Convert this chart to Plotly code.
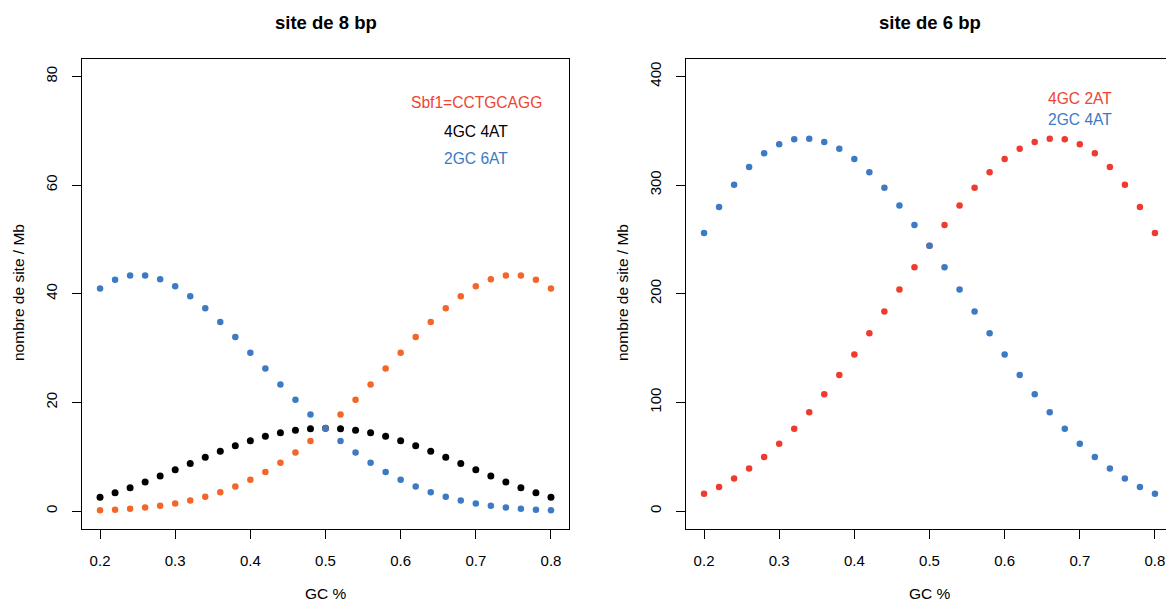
import plotly.graph_objects as go

# ---------------- data ----------------
gc = [0.20, 0.22, 0.24, 0.26, 0.28, 0.30, 0.32, 0.34, 0.36, 0.38, 0.40,
      0.42, 0.44, 0.46, 0.48, 0.50, 0.52, 0.54, 0.56, 0.58, 0.60,
      0.62, 0.64, 0.66, 0.68, 0.70, 0.72, 0.74, 0.76, 0.78, 0.80]

sbf1_8bp = [0.16, 0.27, 0.43, 0.66, 0.98, 1.40, 1.94, 2.63, 3.48, 4.52, 5.76,
            7.21, 8.89, 10.79, 12.92, 15.26, 17.79, 20.50, 23.32, 26.23, 29.16,
            32.04, 34.79, 37.32, 39.55, 41.36, 42.67, 43.36, 43.36, 42.58, 40.96]
gc4at4_8bp = [2.56, 3.39, 4.32, 5.35, 6.45, 7.60, 8.76, 9.91, 11.01, 12.04, 12.96,
              13.76, 14.40, 14.87, 15.16, 15.26, 15.16, 14.87, 14.40, 13.76, 12.96,
              12.04, 11.01, 9.91, 8.76, 7.60, 6.45, 5.35, 4.32, 3.39, 2.56]
gc2at6_8bp = [40.96, 42.58, 43.36, 43.36, 42.67, 41.36, 39.55, 37.32, 34.79, 32.04, 29.16,
              26.23, 23.32, 20.50, 17.79, 15.26, 12.92, 10.79, 8.89, 7.21, 5.76,
              4.52, 3.48, 2.63, 1.94, 1.40, 0.98, 0.66, 0.43, 0.27, 0.16]

gc4at2_6bp = [16.0, 22.3, 29.9, 39.1, 49.8, 62.0, 75.8, 91.0, 107.5, 125.2, 144.0,
              163.6, 183.7, 204.0, 224.3, 244.1, 263.2, 281.1, 297.5, 311.9, 324.0,
              333.4, 339.7, 342.7, 342.1, 337.6, 329.2, 316.7, 300.3, 279.9, 256.0]
gc2at4_6bp = [256.0, 279.9, 300.3, 316.7, 329.2, 337.6, 342.1, 342.7, 339.7, 333.4, 324.0,
              311.9, 297.5, 281.1, 263.2, 244.1, 224.3, 204.0, 183.7, 163.6, 144.0,
              125.2, 107.5, 91.0, 75.8, 62.0, 49.8, 39.1, 29.9, 22.3, 16.0]

x_ticks = [0.2, 0.3, 0.4, 0.5, 0.6, 0.7, 0.8]
x_ticklabels = ["0.2", "0.3", "0.4", "0.5", "0.6", "0.7", "0.8"]
y1_ticks = [0, 20, 40, 60, 80]
y2_ticks = [0, 100, 200, 300, 400]

titles = ["site de 8 bp", "site de 6 bp"]
legend_left = ["Sbf1=CCTGCAGG", "4GC 4AT", "2GC 6AT"]
legend_right = ["4GC 2AT", "2GC 4AT"]

# ---------------- style ----------------
W, H = 1166, 602
ORANGE = "#F4652A"
RED = "#EE3B2E"
RED_TXT = "#EE4433"
BLUE = "#3C7BC3"
BLACK = "#000000"
FONT = "Liberation Sans, Arial, Helvetica, sans-serif"
MS = 6.5


def px(x):
    return x / W


def py(y):
    return 1 - y / H


fig = go.Figure()

fig.add_trace(go.Scatter(x=gc, y=gc4at4_8bp, mode="markers", xaxis="x", yaxis="y",
                         marker=dict(color=BLACK, size=MS + 0.5), showlegend=False))
fig.add_trace(go.Scatter(x=gc, y=sbf1_8bp, mode="markers", xaxis="x", yaxis="y",
                         marker=dict(color=ORANGE, size=MS), showlegend=False))
fig.add_trace(go.Scatter(x=gc, y=gc2at6_8bp, mode="markers", xaxis="x", yaxis="y",
                         marker=dict(color=BLUE, size=MS), showlegend=False))

fig.add_trace(go.Scatter(x=gc, y=gc4at2_6bp, mode="markers", xaxis="x2", yaxis="y2",
                         marker=dict(color=RED, size=MS), showlegend=False))
fig.add_trace(go.Scatter(x=gc, y=gc2at4_6bp, mode="markers", xaxis="x2", yaxis="y2",
                         marker=dict(color=BLUE, size=MS), showlegend=False))

axis_common = dict(showgrid=False, zeroline=False, showline=True, linecolor="black",
                   linewidth=1, ticks="outside", ticklen=9, tickcolor="black",
                   tickwidth=1, tickfont=dict(family=FONT, size=15, color="black"))

ydom = [py(528.5), py(59)]

fig.update_layout(
    width=W, height=H,
    margin=dict(l=0, r=0, t=0, b=0),
    paper_bgcolor="white", plot_bgcolor="white",
    font=dict(family=FONT, color="black"),
    xaxis=dict(domain=[px(82), px(569)], range=[0.176, 0.824], anchor="y",
               tickvals=x_ticks, ticktext=x_ticklabels, mirror=True,
               ticklabelstandoff=9, **axis_common),
    yaxis=dict(domain=ydom, range=[-3.2, 83.2], anchor="x",
               tickvals=y1_ticks, ticktext=[str(v) for v in y1_ticks], mirror=True,
               tickangle=-90, ticklabelstandoff=9, **axis_common),
    xaxis2=dict(domain=[px(686), 1.0], range=[0.176, 0.8147], anchor="y2",
                tickvals=x_ticks, ticktext=x_ticklabels, mirror=True,
                ticklabelstandoff=9, **axis_common),
    yaxis2=dict(domain=ydom, range=[-16, 416], anchor="x2",
                tickvals=y2_ticks, ticktext=[str(v) for v in y2_ticks], mirror=False,
                tickangle=-90, ticklabelstandoff=9, **axis_common),
)

ann = []
# panel titles
ann.append(dict(text="<b>" + titles[0] + "</b>", x=px(325.5), y=py(22)))
ann.append(dict(text="<b>" + titles[1] + "</b>", x=px(929.5), y=py(22)))
for a in ann:
    a.update(font=dict(family=FONT, size=18.5, color="black"))
# axis titles
axt = [
    dict(text="GC %", x=px(325.5), y=py(593)),
    dict(text="GC %", x=px(929.5), y=py(593)),
    dict(text="nombre de site / Mb", x=px(18), y=py(293), textangle=-90),
    dict(text="nombre de site / Mb", x=px(622), y=py(293), textangle=-90),
]
for a in axt:
    a.update(font=dict(family=FONT, size=15.5, color="black"))
ann += axt
# in-plot legend texts
LS = 15.6
leg = [
    dict(text=legend_left[0], x=px(476), y=py(103), font=dict(family=FONT, size=LS, color=RED_TXT)),
    dict(text=legend_left[1], x=px(476), y=py(131), font=dict(family=FONT, size=LS, color=BLACK)),
    dict(text=legend_left[2], x=px(476), y=py(158), font=dict(family=FONT, size=LS, color=BLUE)),
    dict(text=legend_right[0], x=px(1080), y=py(98), font=dict(family=FONT, size=LS, color=RED_TXT)),
    dict(text=legend_right[1], x=px(1080), y=py(120), font=dict(family=FONT, size=LS, color=BLUE)),
]
ann += leg
for a in ann:
    a.update(xref="paper", yref="paper", showarrow=False, xanchor="center", yanchor="middle")

fig.update_layout(annotations=ann)

fig.write_html(
    "out.html",
    config={"displayModeBar": False},
    post_script="document.body.style.margin='0';document.body.style.padding='0';"
                "document.body.style.overflow='hidden';",
)
